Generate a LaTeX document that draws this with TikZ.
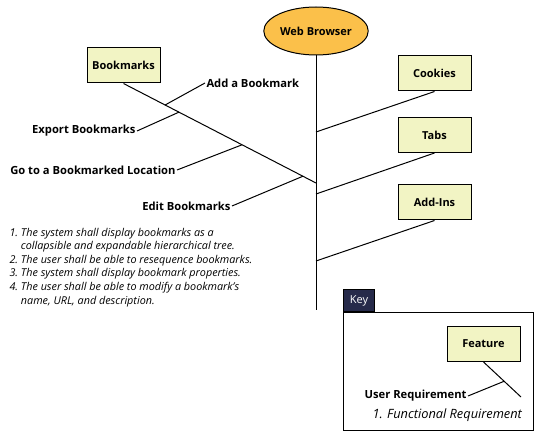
\documentclass[tikz,border=0pt]{standalone}
\usepackage{fontspec}
\setmainfont{Open Sans}
\usetikzlibrary{shapes.geometric,calc}
\definecolor{featfill}{RGB}{242,244,196}
\definecolor{rootfill}{RGB}{251,192,74}
\definecolor{keyfill}{RGB}{38,42,74}
\begin{document}
\begin{tikzpicture}[
                        x=1pt, y=-1pt,
                        line width=1pt,
                        feature/.style={rectangle, draw, fill=featfill, minimum height=35pt, minimum width=73pt, font=\fontsize{11}{13}\selectfont\bfseries},
                        userreq/.style={inner sep=1pt, font=\fontsize{11.2}{13}\selectfont\bfseries},
                        funcreq/.style={inner sep=0pt, align=left, font=\fontsize{10.8}{13.6}\selectfont\itshape}
                    ]
                    \useasboundingbox (0,0) rectangle (551,438);
                    % Blocks
                    \node [ellipse, draw, fill=rootfill, minimum width=88pt, minimum height=48pt, inner sep=1pt, font=\fontsize{11}{13}\selectfont\bfseries] (browser) at (316,31) {Web Browser};
                    \coordinate (spine) at (316,310);
                    \node [feature] (bookmarks) at (123.5,65.5) {Bookmarks};
                    \node [feature] (cookies) at (434.5,73.5) {Cookies};
                    \node [feature] (tabs) at (434.5,135) {Tabs};
                    \node [feature] (addins) at (434.5,202.5) {Add-Ins};

                    % Joints on the spine
                    \coordinate (bmjoin) at (316,183);
                    \coordinate (cookiesjoin) at (316,132);
                    \coordinate (tabsjoin) at (316,194);
                    \coordinate (addinsjoin) at (316,261);

                    % Joints on the bookmarks branch
                    \coordinate (addj) at ($(bookmarks.south)!0.216!(bmjoin)$);
                    \coordinate (exportj) at ($(bookmarks.south)!0.288!(bmjoin)$);
                    \coordinate (gotoj) at ($(bookmarks.south)!0.616!(bmjoin)$);
                    \coordinate (editj) at ($(bookmarks.south)!0.932!(bmjoin)$);

                    % User requirements
                    \node [userreq, anchor=west] (addbm) at (205,83) {Add a Bookmark};
                    \node [userreq, anchor=east] (export) at (137,131) {Export Bookmarks};
                    \node [userreq, anchor=east] (goto) at (177,170) {Go to a Bookmarked Location};
                    \node [userreq, anchor=east] (edit) at (232,206) {Edit Bookmarks};

                    % Functional requirements
                    \node [funcreq, anchor=north west] (bmreqs) at (9,226) {%
                        \begin{tabular}{@{}r@{\ }l@{}}
                        1. & The system shall display bookmarks as a\\
                           & collapsible and expandable hierarchical tree.\\
                        2. & The user shall be able to resequence bookmarks.\\
                        3. & The system shall display bookmark properties.\\
                        4. & The user shall be able to modify a bookmark’s\\
                           & name, URL, and description.
                        \end{tabular}};

                    % Connections
                    \draw (browser) -- (spine);
                    \draw (bookmarks.south) -- (bmjoin);
                    \draw (cookies.south) -- (cookiesjoin);
                    \draw (tabs.south) -- (tabsjoin);
                    \draw (addins.south) -- (addinsjoin);
                    \draw (addbm.west) -- (addj);
                    \draw (export.east) -- (exportj);
                    \draw (goto.east) -- (gotoj);
                    \draw (edit.east) -- (editj);

                    % Key
                    \node [rectangle, draw, fill=keyfill, text=white, anchor=south west, minimum width=31pt, minimum height=22pt, inner sep=1pt, font=\fontsize{11}{13}\selectfont] (keytab) at (343,312) {Key};
                    \node [rectangle, draw, anchor=north west, minimum width=190pt, minimum height=118pt] (keybox) at (343,312) {};
                    \node [feature] (keyfeat) at (483.5,344) {Feature};
                    \coordinate (keyend) at (521,397);
                    \coordinate (keyj) at ($(keyfeat.south)!0.55!(keyend)$);
                    \node [userreq, anchor=east] (keyreq) at (468,396) {User Requirement};
                    \node [funcreq, anchor=west, font=\fontsize{12.8}{15}\selectfont\itshape] (keyfunc) at (372,415) {1. Functional Requirement};
                    \draw (keyfeat.south) -- (keyend);
                    \draw (keyreq.east) -- (keyj);
\end{tikzpicture}
\end{document}
